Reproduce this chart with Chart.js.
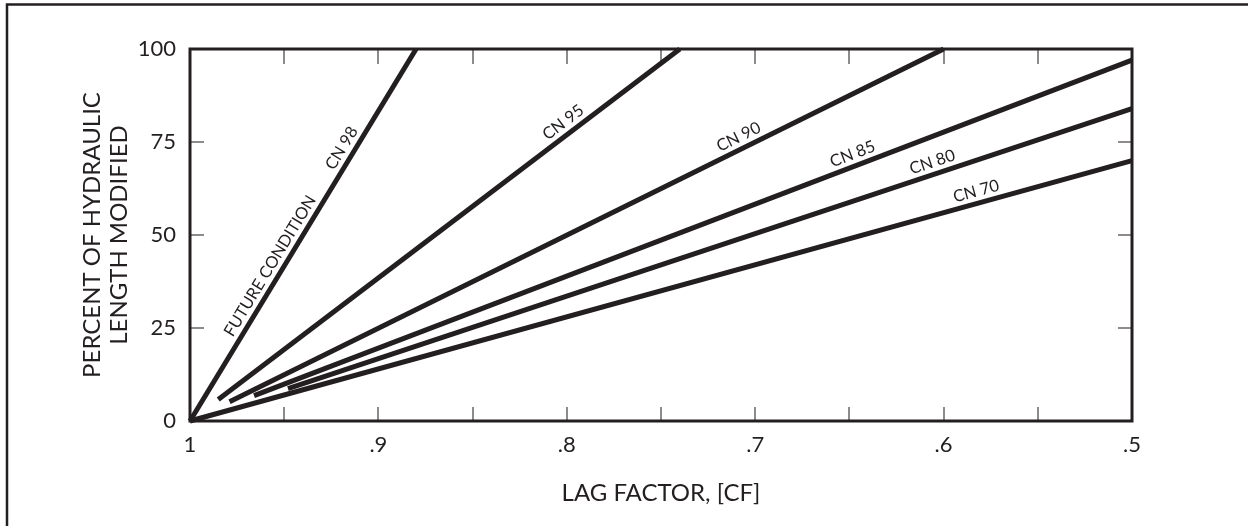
<!DOCTYPE html>
<html>
<head>
<meta charset="utf-8">
<script src="https://cdn.jsdelivr.net/npm/chart.js@4/dist/chart.umd.min.js"></script>
<style>
  html, body { margin: 0; padding: 0; background: #ffffff; }
  canvas { display: block; }
</style>
</head>
<body>
<canvas id="c" width="1248" height="526"></canvas>
<script>
// ---- Data ----
const seriesNames = ['CN 98', 'CN 95', 'CN 90', 'CN 85', 'CN 80', 'CN 70'];
const cn98X = [1.0, 0.88];   const cn98Y = [0, 100];
const cn95X = [0.985, 0.74]; const cn95Y = [5.8, 100];
const cn90X = [0.979, 0.60]; const cn90Y = [5.2, 100];
const cn85X = [0.966, 0.50]; const cn85Y = [6.8, 97];
const cn80X = [0.948, 0.50]; const cn80Y = [8.7, 84];
const cn70X = [1.0, 0.50];   const cn70Y = [0, 70];
const xTickLabels = ['1', '.9', '.8', '.7', '.6', '.5'];
const yTickLabels = ['0', '25', '50', '75', '100'];
const lineLabelText = ['FUTURE CONDITION', 'CN 98', 'CN 95', 'CN 90', 'CN 85', 'CN 80', 'CN 70'];
const lineLabelSeries = [0, 0, 1, 2, 3, 4, 5];
const lineLabelAtX = [0.952, 0.914, 0.798, 0.706, 0.646, 0.604, 0.581];

const xsAll = [cn98X, cn95X, cn90X, cn85X, cn80X, cn70X];
const ysAll = [cn98Y, cn95Y, cn90Y, cn85Y, cn80Y, cn70Y];

const INK = '#231f20';
const TICK = '#8c8c8c';
const FONT = 'Lato, "Open Sans", sans-serif';

const datasets = seriesNames.map((name, i) => ({
  label: name,
  data: xsAll[i].map((x, j) => ({ x: x, y: ysAll[i][j] })),
  showLine: true,
  borderColor: INK,
  borderWidth: 5,
  borderCapStyle: 'butt',
  pointRadius: 0,
  pointHoverRadius: 0,
  fill: false,
  clip: false
}));

const decorPlugin = {
  id: 'decor',
  beforeDraw(chart) {
    const ctx = chart.ctx;
    ctx.save();
    ctx.strokeStyle = INK;
    ctx.lineWidth = 2.5;
    ctx.strokeRect(7, 4.5, 1300, 700);
    ctx.restore();
  },
  beforeDatasetsDraw(chart) {
    const ctx = chart.ctx;
    const a = chart.chartArea;
    const xs = chart.scales.x, ys = chart.scales.y;
    ctx.save();
    ctx.strokeStyle = TICK;
    ctx.lineWidth = 2;
    xs.ticks.forEach(t => {
      const px = Math.round(xs.getPixelForValue(t.value));
      if (px <= a.left + 2 || px >= a.right - 2) return;
      ctx.beginPath();
      ctx.moveTo(px, a.top); ctx.lineTo(px, a.top + 15);
      ctx.moveTo(px, a.bottom); ctx.lineTo(px, a.bottom - 14);
      ctx.stroke();
    });
    ys.ticks.forEach(t => {
      const py = Math.round(ys.getPixelForValue(t.value));
      if (py <= a.top + 2 || py >= a.bottom - 2) return;
      ctx.beginPath();
      ctx.moveTo(a.left, py); ctx.lineTo(a.left + 14, py);
      ctx.moveTo(a.right, py); ctx.lineTo(a.right - 14, py);
      ctx.stroke();
    });
    ctx.restore();
  },
  afterDatasetsDraw(chart) {
    const ctx = chart.ctx;
    const a = chart.chartArea;
    const xs = chart.scales.x, ys = chart.scales.y;
    ctx.save();
    ctx.strokeStyle = INK;
    ctx.lineWidth = 3;
    ctx.strokeRect(a.left, a.top, a.right - a.left, a.bottom - a.top);
    // line labels
    ctx.fillStyle = INK;
    ctx.font = '16.5px ' + FONT;
    ctx.textAlign = 'center';
    ctx.textBaseline = 'middle';
    lineLabelText.forEach((txt, k) => {
      const s = lineLabelSeries[k];
      const X = xsAll[s], Y = ysAll[s];
      const xv = lineLabelAtX[k];
      const yv = Y[0] + (Y[1] - Y[0]) * (xv - X[0]) / (X[1] - X[0]);
      const p1x = xs.getPixelForValue(X[0]), p1y = ys.getPixelForValue(Y[0]);
      const p2x = xs.getPixelForValue(X[1]), p2y = ys.getPixelForValue(Y[1]);
      const th = Math.atan2(p2y - p1y, p2x - p1x);
      const off = 12;
      const cx = xs.getPixelForValue(xv) + Math.sin(th) * off;
      const cy = ys.getPixelForValue(yv) - Math.cos(th) * off;
      ctx.save();
      ctx.translate(cx, cy);
      ctx.rotate(th);
      ctx.fillText(txt, 0, 0);
      ctx.restore();
    });
    ctx.restore();
  }
};

new Chart(document.getElementById('c'), {
  type: 'scatter',
  data: { datasets: datasets },
  plugins: [decorPlugin],
  options: {
    responsive: false,
    devicePixelRatio: 1,
    animation: false,
    events: [],
    layout: { padding: { left: 0, top: 49, right: 116, bottom: 0 } },
    plugins: { legend: { display: false }, tooltip: { enabled: false } },
    scales: {
      x: {
        type: 'linear',
        reverse: true,
        min: 0.5,
        max: 1,
        afterFit: s => { s.height = 105; },
        afterBuildTicks: s => {
          const arr = [];
          for (let i = 0; i <= 10; i++) arr.push({ value: 0.5 + i * 0.05 });
          s.ticks = arr;
        },
        grid: { display: false, drawTicks: false },
        border: { display: false },
        ticks: {
          autoSkip: false,
          maxRotation: 0,
          padding: 11,
          color: INK,
          font: { family: FONT, size: 22 },
          callback: v => {
            const i = Math.round((1 - v) * 10 * 1000) / 1000;
            if (Math.abs(i - Math.round(i)) > 1e-6) return '';
            return xTickLabels[Math.round(i)];
          }
        },
        title: {
          display: true,
          text: 'LAG FACTOR, [CF]',
          color: INK,
          font: { family: FONT, size: 24, lineHeight: 1.2 },
          padding: { top: 0, bottom: 18 }
        }
      },
      y: {
        type: 'linear',
        min: 0,
        max: 100,
        afterFit: s => { s.width = 190; },
        afterBuildTicks: s => {
          s.ticks = yTickLabels.map((t, i) => ({ value: i * 25 }));
        },
        grid: { display: false, drawTicks: false },
        border: { display: false },
        ticks: {
          padding: 14,
          color: INK,
          font: { family: FONT, size: 22 },
          callback: (v, i) => yTickLabels[i]
        },
        title: {
          display: true,
          text: ['PERCENT OF HYDRAULIC', 'LENGTH MODIFIED'],
          color: INK,
          font: { family: FONT, size: 24, lineHeight: 1.15 },
          padding: { top: 78, bottom: 0 }
        }
      }
    }
  }
});
</script>
</body>
</html>
